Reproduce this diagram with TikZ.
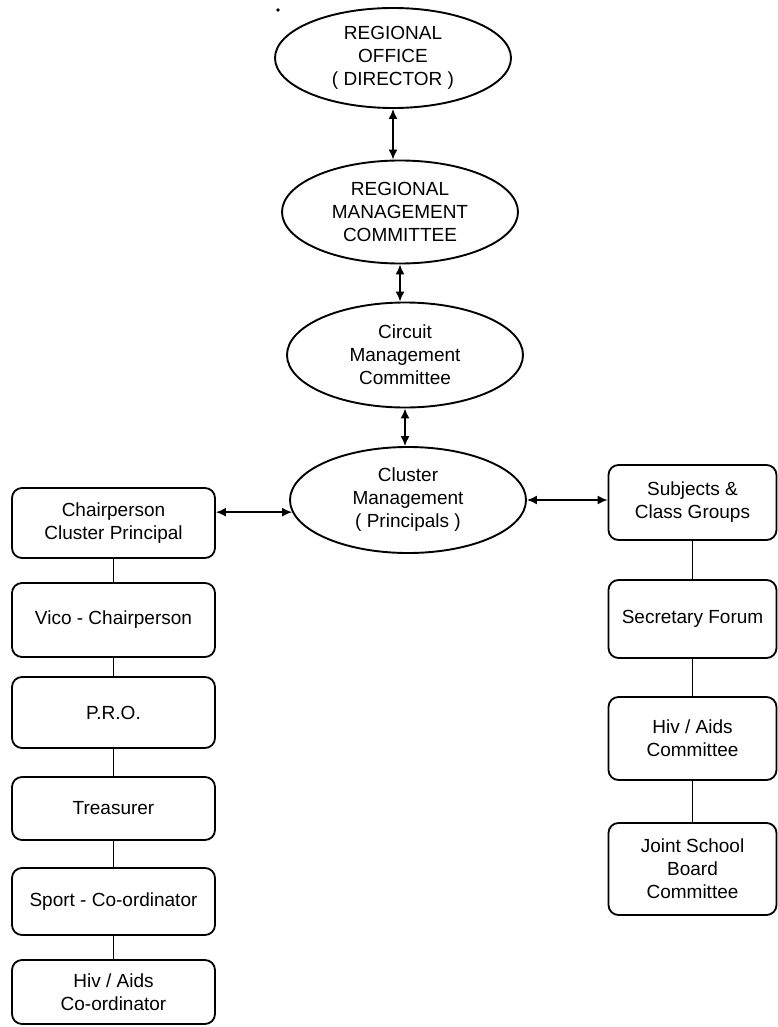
\documentclass[tikz,border=0pt]{standalone}
\usepackage{fontspec}
\setmainfont{Liberation Sans}
\usetikzlibrary{arrows.meta,shapes.geometric}
\begin{document}
\begin{tikzpicture}[x=1pt,y=-1pt,
  every node/.style={font=\fontsize{19}{23}\selectfont, align=center, inner sep=0pt},
  ell/.style={draw, line width=1.9pt, ellipse, minimum width=236pt},
  lbox/.style={draw, line width=1.8pt, rounded corners=10pt, rectangle, minimum width=203pt},
  rbox/.style={draw, line width=1.8pt, rounded corners=10pt, rectangle, minimum width=168pt},
  link/.style={line width=1.6pt},
  biarrow/.style={line width=1.6pt, {Latex[length=10pt,width=9pt]}-{Latex[length=10pt,width=9pt]}}
]
\useasboundingbox (0,0) rectangle (778,1027);

% ellipses
\node[ell, minimum height=100pt] (e1) at (393,58) {REGIONAL\\OFFICE\\( DIRECTOR )};
\node[ell, minimum height=103pt] (e2) at (400,212) {REGIONAL\\MANAGEMENT\\COMMITTEE};
\node[ell, minimum height=105pt] (e3) at (405,355) {Circuit\\Management\\Committee};
\node[ell, minimum height=106pt] (e4) at (408,500) {Cluster\\Management\\( Principals )};

% left column
\node[lbox, minimum height=70pt] (chair) at (113.5,523) {Chairperson\\Cluster Principal};
\node[lbox, minimum height=74pt] (vice) at (113.5,620) {Vico - Chairperson};
\node[lbox, minimum height=71pt] (pro) at (113.5,712.5) {P.R.O.};
\node[lbox, minimum height=63pt] (treas) at (113.5,808.5) {Treasurer};
\node[lbox, minimum height=67pt] (sport) at (113.5,901.5) {Sport - Co-ordinator};
\node[lbox, minimum height=64pt] (hivco) at (113.5,992) {Hiv / Aids\\Co-ordinator};

% right column
\node[rbox, minimum height=75pt] (subj) at (692.5,502.5) {Subjects \&\\Class Groups};
\node[rbox, minimum height=78pt] (sec) at (692.5,619) {Secretary Forum};
\node[rbox, minimum height=83pt] (hivc) at (692.5,738.5) {Hiv / Aids\\Committee};
\node[rbox, minimum height=92pt] (joint) at (692.5,869) {Joint School\\Board\\Committee};

% arrows between ellipses
\draw[biarrow] (e1.south) -- (e1.south |- e2.north);
\draw[biarrow] (e2.south) -- (e2.south |- e3.north);
\draw[biarrow] (e3.south) -- (e3.south |- e4.north);
\draw[biarrow] (chair.east |- e4.186) -- (e4.186);
\draw[biarrow] (e4.east) -- (e4.east -| subj.west);

% left connectors
\draw[link] (chair.south) -- (vice.north);
\draw[link] (vice.south) -- (pro.north);
\draw[link] (pro.south) -- (treas.north);
\draw[link] (treas.south) -- (sport.north);
\draw[link] (sport.south) -- (hivco.north);

% right connectors
\draw[link] (subj.south) -- (sec.north);
\draw[link] (sec.south) -- (hivc.north);
\draw[link] (hivc.south) -- (joint.north);

% scan speck
\fill (278,10) circle (1.8pt);
\end{tikzpicture}
\end{document}
